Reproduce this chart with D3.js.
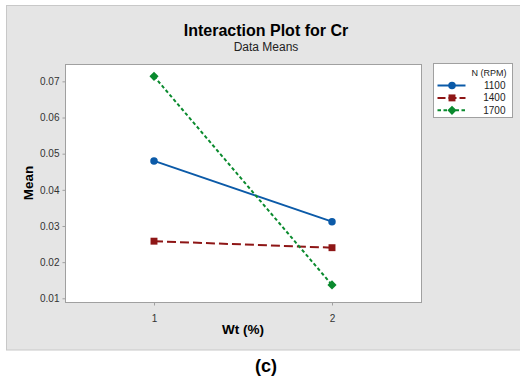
<!DOCTYPE html>
<html>
<head>
<meta charset="utf-8">
<script src="https://cdn.jsdelivr.net/npm/d3@7"></script>
<style>
  body { margin: 0; background: #fff; }
  svg { display: block; font-family: Arial, "Liberation Sans", sans-serif; }
</style>
</head>
<body>
<svg id="chart" width="520" height="378"></svg>
<script>
// data
var wtLevels = [1, 2];
var speeds = ["1100", "1400", "1700"];
var mean1100 = [0.0480, 0.0312];
var mean1400 = [0.0258, 0.0240];
var mean1700 = [0.0714, 0.0137];
var yTicks = [0.01, 0.02, 0.03, 0.04, 0.05, 0.06, 0.07];

var seriesValues = [mean1100, mean1400, mean1700];
var colors = ["#0b5aa8", "#8e1616", "#0a8a2e"];
var dashes = [null, "9,4", "3.5,2.5"];
var symbols = [d3.symbolCircle, d3.symbolSquare, d3.symbolSquare];
var symSize = [44, 48, 42];
var symRot = [0, 0, 45];

var svg = d3.select("#chart"),
    margin = {top: 64, right: 99, bottom: 76, left: 65},
    width = +svg.attr("width") - margin.left - margin.right,
    height = +svg.attr("height") - margin.top - margin.bottom;

// gray panel
svg.append("rect")
    .attr("x", 6.5).attr("y", 5.5)
    .attr("width", 514).attr("height", 344.5)
    .attr("fill", "#e5e5e5")
    .attr("stroke", "#c8c8c8");

svg.append("text")
    .attr("x", 266).attr("y", 36)
    .attr("text-anchor", "middle")
    .attr("font-size", 16).attr("font-weight", "bold")
    .text("Interaction Plot for Cr");

svg.append("text")
    .attr("x", 266).attr("y", 51)
    .attr("text-anchor", "middle")
    .attr("font-size", 12).attr("fill", "#222")
    .text("Data Means");

var g = svg.append("g").attr("transform", "translate(" + margin.left + "," + margin.top + ")");

var x = d3.scaleLinear().domain([0.5, 2.5]).range([0, width]);
var y = d3.scaleLinear().domain([0.00898, 0.0748]).range([height, 0]);

g.append("rect")
    .attr("x", 0.5).attr("y", 0.5)
    .attr("width", width).attr("height", height)
    .attr("fill", "#fff")
    .attr("stroke", "#a0a0a0");

var yAxis = g.append("g")
    .attr("transform", "translate(0.5,0)")
    .call(d3.axisLeft(y).tickValues(yTicks).tickFormat(d3.format(".2f")).tickSize(3).tickSizeOuter(0));
var xAxis = g.append("g")
    .attr("transform", "translate(0," + (height + 0.5) + ")")
    .call(d3.axisBottom(x).tickValues(wtLevels).tickFormat(d3.format("d")).tickSize(3).tickSizeOuter(0));

[yAxis, xAxis].forEach(function(a) {
  a.select(".domain").remove();
  a.selectAll(".tick line").attr("stroke", "#a0a0a0");
  a.selectAll(".tick text").attr("fill", "#333").attr("font-size", 10).attr("font-family", "Arial, 'Liberation Sans', sans-serif");
});
xAxis.selectAll(".tick text").attr("dy", "1.3em");

svg.append("text")
    .attr("transform", "translate(33," + (margin.top + height / 2) + ") rotate(-90)")
    .attr("text-anchor", "middle")
    .attr("font-size", 13.5).attr("font-weight", "bold")
    .text("Mean");

svg.append("text")
    .attr("x", margin.left + width / 2).attr("y", 334)
    .attr("text-anchor", "middle")
    .attr("font-size", 13.5).attr("font-weight", "bold")
    .text("Wt (%)");

var line = d3.line()
    .x(function(d, i) { return x(wtLevels[i]); })
    .y(function(d) { return y(d); });

seriesValues.forEach(function(vals, s) {
  g.append("path")
      .datum(vals)
      .attr("fill", "none")
      .attr("stroke", colors[s])
      .attr("stroke-width", 2)
      .attr("stroke-dasharray", dashes[s])
      .attr("d", line);
  g.selectAll(".pt" + s)
    .data(vals)
    .enter().append("path")
      .attr("transform", function(d, i) { return "translate(" + x(wtLevels[i]) + "," + y(d) + ") rotate(" + symRot[s] + ")"; })
      .attr("d", d3.symbol().type(symbols[s]).size(symSize[s]))
      .attr("fill", colors[s]);
});

// legend
var lg = svg.append("g").attr("transform", "translate(433.5,63.5)");
lg.append("rect")
    .attr("width", 79).attr("height", 54)
    .attr("fill", "#fff").attr("stroke", "#a0a0a0");
lg.append("text")
    .attr("x", 73).attr("y", 12)
    .attr("text-anchor", "end")
    .attr("font-size", 9).attr("fill", "#222")
    .text("N (RPM)");
speeds.forEach(function(sp, s) {
  var ly = 22 + s * 12.4;
  lg.append("line")
      .attr("x1", 4).attr("x2", 32)
      .attr("y1", ly).attr("y2", ly)
      .attr("stroke", colors[s]).attr("stroke-width", 2)
      .attr("stroke-dasharray", s === 1 ? "8,3" : dashes[s]);
  lg.append("path")
      .attr("transform", "translate(18.5," + ly + ") rotate(" + symRot[s] + ")")
      .attr("d", d3.symbol().type(symbols[s]).size(symSize[s]))
      .attr("fill", colors[s]);
  lg.append("text")
      .attr("x", 72).attr("y", ly + 3.5)
      .attr("text-anchor", "end")
      .attr("font-size", 10).attr("fill", "#222")
      .text(sp);
});

svg.append("text")
    .attr("x", 266).attr("y", 372)
    .attr("text-anchor", "middle")
    .attr("font-size", 18).attr("font-weight", "bold")
    .text("(c)");
</script>
</body>
</html>
